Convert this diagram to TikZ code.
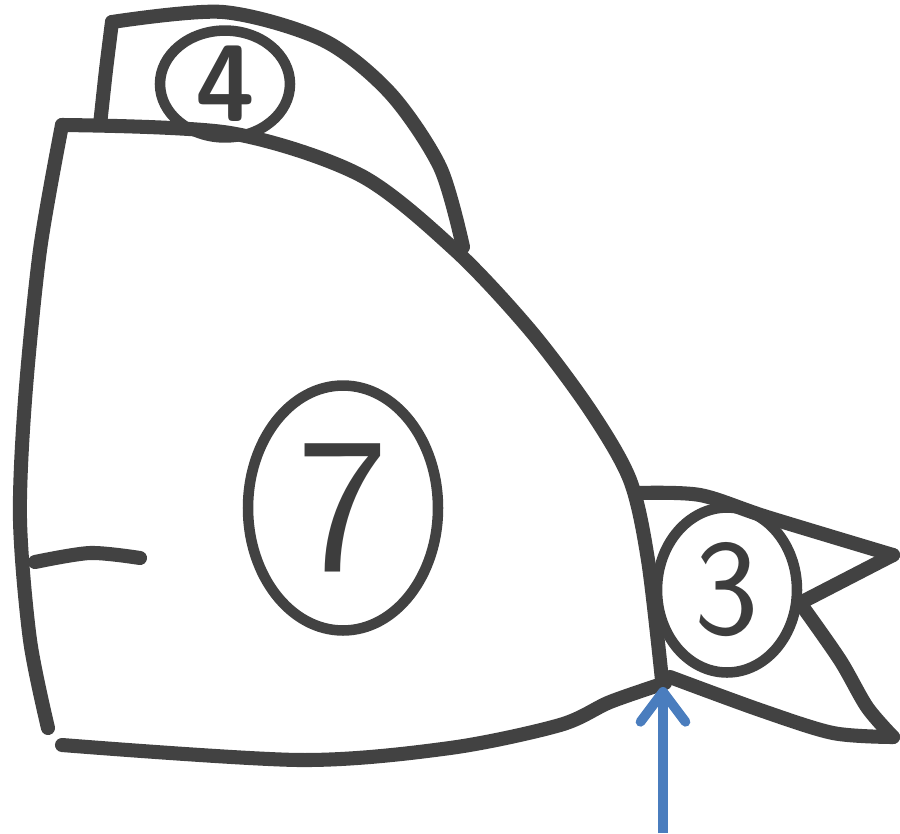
\documentclass[tikz,border=0pt]{standalone}
\usetikzlibrary{shapes.geometric,arrows.meta}

\begin{document}
\begin{tikzpicture}
  [
  x=0.02cm,y=-0.02cm,
  pen/.style={draw=black!74,line width=8pt,line cap=round,line join=round},
  loop/.style={ellipse,draw=black!74,line width=6pt,inner sep=0pt,text=black!76},
  arrow/.style={-{Straight Barb[length=6mm,width=9mm,round]},draw={rgb,255:red,74;green,125;blue,190},line width=5.5pt},
  ]
  \useasboundingbox (0,0) rectangle (900,833);
  % big sector
  \draw[pen] plot[smooth] coordinates {(62,125) (40,250) (25,400) (20,520) (30,640) (48,728)};
  \draw[pen] plot[smooth] coordinates {(62,125) (230,133) (360,175) (455,250) (530,330) (590,410) (630,480) (648,560) (662,680)};
  \draw[pen] plot[smooth] coordinates {(62,745) (300,760) (450,748) (560,725) (610,702) (665,683)};
  \draw[pen] plot[smooth] coordinates {(35,562) (90,553) (140,558)};
  \node[loop,minimum width=3.8cm,minimum height=4.9cm,font=\sffamily\fontsize{110}{110}\selectfont] (seven) at (343,508) {7};
  % top flap
  \draw[pen] plot[smooth] coordinates {(100,125) (106,70) (112,22)};
  \draw[pen] plot[smooth] coordinates {(112,22) (223,12) (323,40) (390,93) (440,167) (463,247)};
  \node[loop,minimum width=2.6cm,minimum height=1.85cm,font=\sffamily\bfseries\fontsize{62}{62}\selectfont] (four) at (225,84) {4};
  % right flag
  \draw[pen] plot[smooth] coordinates {(637,493) (700,495) (767,517) (893,555)};
  \draw[pen] (893,555) -- (800,603);
  \draw[pen] plot[smooth] coordinates {(800,603) (840,660) (867,707) (893,737)};
  \draw[pen] plot[smooth] coordinates {(670,677) (760,710) (833,733) (893,737)};
  \node[loop,minimum width=2.8cm,minimum height=3.3cm,font=\sffamily\fontsize{78}{78}\selectfont] (three) at (727,590) {3};
  % pointer
  \coordinate (tip) at (663,687);
  \coordinate (tail) at (663,833);
  \draw[arrow] (tail) -- (tip);
\end{tikzpicture}
\end{document}
